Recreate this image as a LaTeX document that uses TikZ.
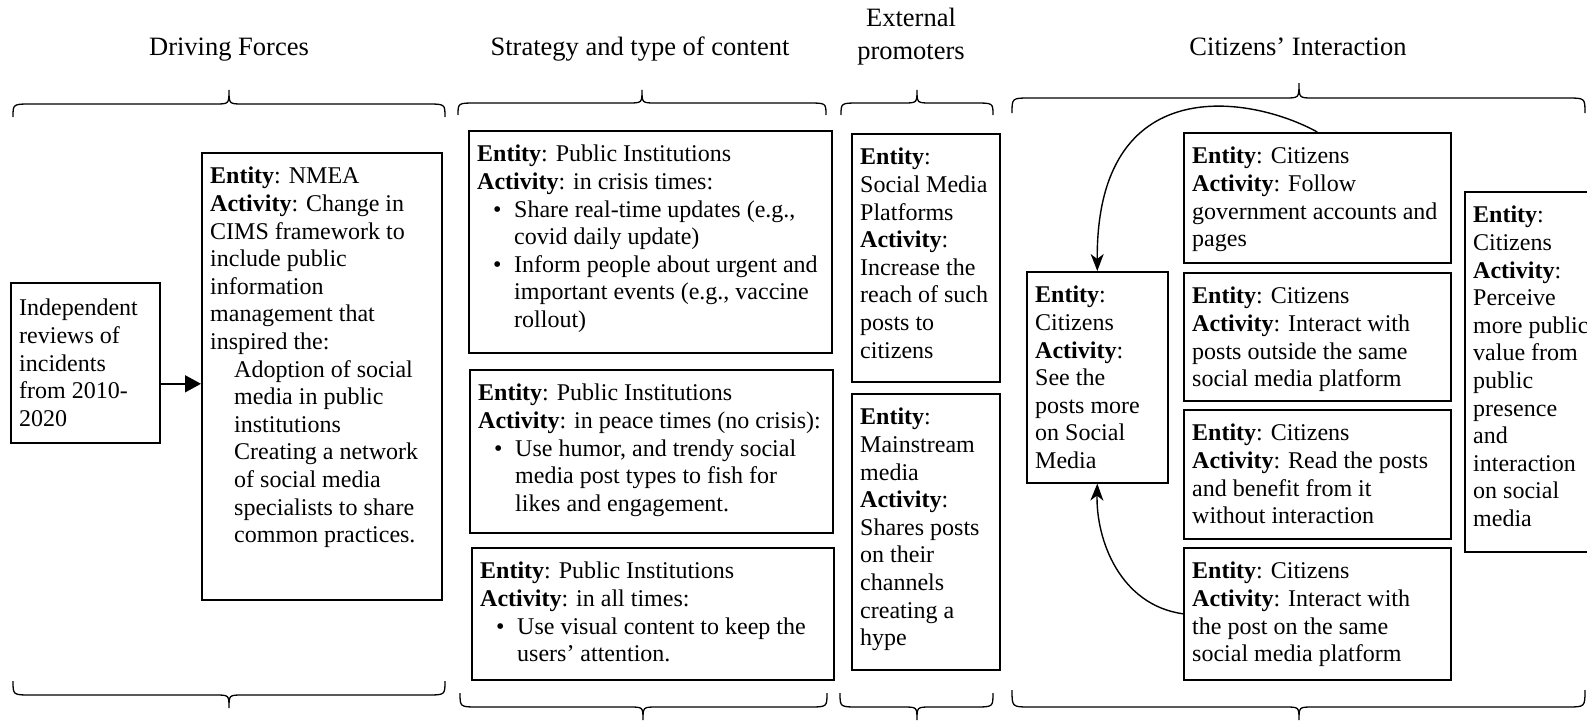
\documentclass[tikz,border=0pt]{standalone}
\usepackage{fontspec}
\setmainfont{Liberation Serif}
\usetikzlibrary{arrows.meta}
\tikzset{
 bx/.style={draw, line width=1.6pt, inner sep=0pt},
 tx/.style={inner sep=0pt, align=left, font=\fontsize{24}{27.6}\selectfont},
 ttl/.style={inner sep=0pt, align=center, font=\fontsize{26.5}{33}\selectfont},
 brc/.style={line width=1.3pt},
 carr/.style={line width=1.4pt, -{Stealth[length=17pt,width=13pt,inset=5pt]}},
 sarr/.style={line width=1.6pt, -{Triangle[length=16pt,width=17pt]}},
}
\newcommand\ebox[6]{%
  \node[bx, minimum width=#4pt, minimum height=#5pt, anchor=north west] (#1) at (#2,#3) {};
  \node[tx, anchor=north west] (#1t) at ([xshift=9pt,yshift=-15pt]#1.north west) {#6};}
\newcommand\cbrace[6]{% xl, xr, xm, yend, yline, ytip
  \draw[brc] (#1,#4) .. controls (#1,#5) .. ({#1+18},#5) -- ({#3-14},#5)
    .. controls (#3,#5) .. (#3,#6) .. controls (#3,#5) .. ({#3+14},#5)
    -- ({#2-18},#5) .. controls (#2,#5) .. (#2,#4);}
\newcommand\bul{\makebox[37pt][l]{\hspace{16pt}\textbullet}}
\newcommand\ind{\hspace*{37pt}}
\newcommand\sub{\hspace*{24pt}}
\begin{document}
\begin{tikzpicture}[x=1pt,y=-1pt]
\useasboundingbox (0,0) rectangle (1587,720);
\clip (0,0) rectangle (1587,720);

% titles
\node[ttl, anchor=base] (t1) at (229,55) {Driving Forces};
\node[ttl, anchor=base] (t2) at (640,55) {Strategy and type of content};
\node[ttl, anchor=north] (t3) at (911,8) {External\\promoters};
\node[ttl, anchor=base] (t4) at (1298,55) {Citizens’ Interaction};

% braces top
\cbrace{13}{445}{229}{117}{104}{90}
\cbrace{458}{826}{642}{115}{103}{90}
\cbrace{841}{993}{917}{115}{103}{90}
\cbrace{1012}{1585}{1299}{113}{98}{83}
% braces bottom
\cbrace{13}{445}{229}{681}{695}{708}
\cbrace{460}{827}{643}{693}{707}{720}
\cbrace{840}{993}{917}{693}{707}{720}
\cbrace{1012}{1585}{1299}{690}{707}{720}

% driving forces
\node[bx, minimum width=149pt, minimum height=160pt, anchor=north west] (indep) at (10,282) {};
\node[tx, anchor=north west] (indept) at ([xshift=9pt,yshift=-17pt]indep.north west)
 {Independent\\reviews of\\incidents\\from 2010-\\2020};
\ebox{nmea}{201}{152}{240}{447}{\textbf{Entity}: NMEA\\\textbf{Activity}: Change in\\CIMS framework to\\include public\\information\\management that\\inspired the:\\\sub Adoption of social\\\sub media in public\\\sub institutions\\\sub Creating a network\\\sub of social media\\\sub specialists to share\\\sub common practices.}

\coordinate (ar) at ([yshift=-21pt]indep.east);
\draw[sarr] (ar) -- (ar -| nmea.west);

% strategy
\ebox{pia}{468}{130}{363}{222}{\textbf{Entity}: Public Institutions\\\textbf{Activity}: in crisis times:\\\bul Share real-time updates (e.g.,\\\ind covid daily update)\\\bul Inform people about urgent and\\\ind important events (e.g., vaccine\\\ind rollout)}
\ebox{pib}{469}{369}{363}{163}{\textbf{Entity}: Public Institutions\\\textbf{Activity}: in peace times (no crisis):\\\bul Use humor, and trendy social\\\ind media post types to fish for\\\ind likes and engagement.}
\ebox{pic}{471}{547}{362}{132}{\textbf{Entity}: Public Institutions\\\textbf{Activity}: in all times:\\\bul Use visual content to keep the\\\ind users’ attention.}

% external promoters
\ebox{smp}{851}{133}{148}{248}{\textbf{Entity}:\\Social Media\\Platforms\\\textbf{Activity}:\\Increase the\\reach of such\\posts to\\citizens}
\ebox{mm}{851}{393}{148}{276}{\textbf{Entity}:\\Mainstream\\media\\\textbf{Activity}:\\Shares posts\\on their\\channels\\creating a\\hype}

% citizens
\ebox{see}{1026}{271}{141}{211}{\textbf{Entity}:\\Citizens\\\textbf{Activity}:\\See the\\posts more\\on Social\\Media}
\ebox{follow}{1183}{132}{267}{130}{\textbf{Entity}: Citizens\\\textbf{Activity}: Follow\\government accounts and\\pages}
\ebox{outside}{1183}{272}{267}{128}{\textbf{Entity}: Citizens\\\textbf{Activity}: Interact with\\posts outside the same\\social media platform}
\ebox{read}{1183}{409}{267}{129}{\textbf{Entity}: Citizens\\\textbf{Activity}: Read the posts\\and benefit from it\\without interaction}
\ebox{inter}{1183}{547}{267}{132}{\textbf{Entity}: Citizens\\\textbf{Activity}: Interact with\\the post on the same\\social media platform}
\ebox{perc}{1464}{191}{150}{360}{\textbf{Entity}:\\Citizens\\\textbf{Activity}:\\Perceive\\more public\\value from\\public\\presence\\and\\interaction\\on social\\media}

\draw[carr] (follow.north) .. controls (1250,95) and (1096,70) .. (see.north);
\draw[carr] (inter.west) .. controls (1120,605) and (1096,540) .. (see.south);
\end{tikzpicture}
\end{document}
